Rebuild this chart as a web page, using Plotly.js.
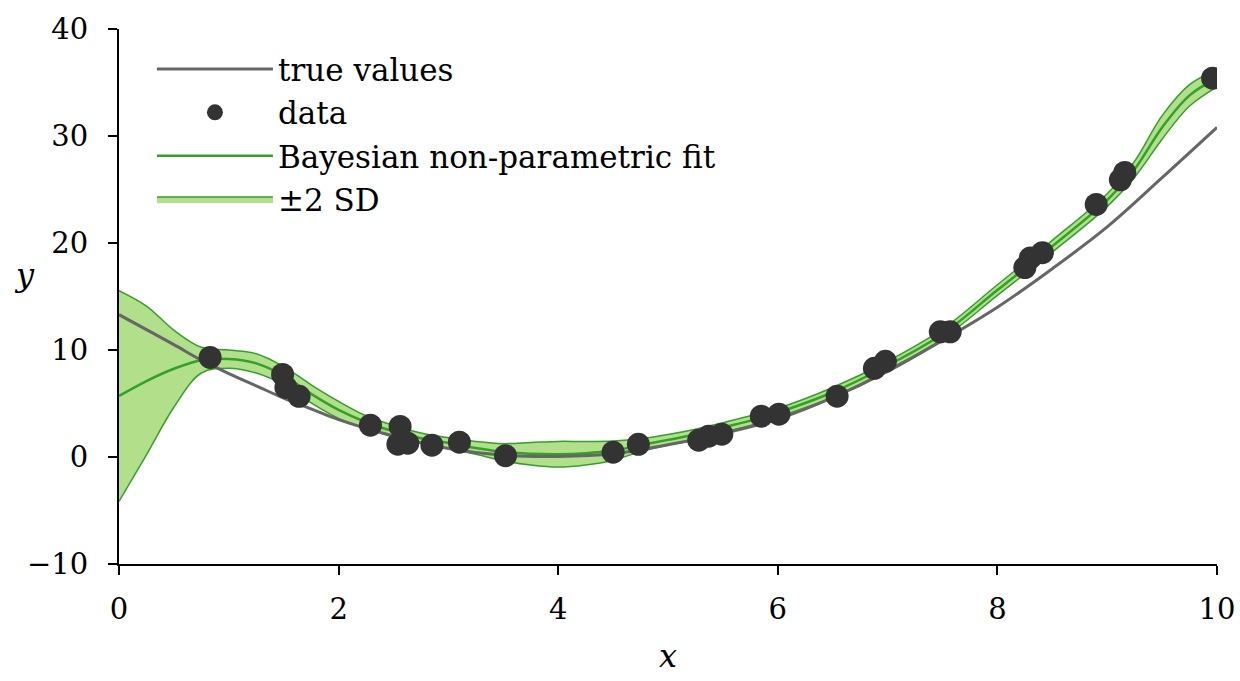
<!DOCTYPE html>
<html>
<head>
<meta charset="utf-8">
<script src="https://cdn.plot.ly/plotly-3.0.1.min.js"></script>
<style>html,body{margin:0;padding:0;background:#fff;}#chart{width:1240px;height:681px;}</style>
</head>
<body>
<div id="chart"></div>
<script>
// observed data points
const dataX = [0.83, 1.49, 1.52, 1.64, 2.29, 2.56, 2.54, 2.63, 2.85, 3.10, 3.52, 4.50, 4.73, 5.28, 5.37, 5.49, 5.85, 6.01, 6.54, 6.88, 6.98, 7.48, 7.57, 8.25, 8.30, 8.41, 8.90, 9.12, 9.16, 9.96];
const dataY = [9.31, 7.72, 6.50, 5.67, 2.97, 2.86, 1.20, 1.29, 1.10, 1.38, 0.12, 0.45, 1.19, 1.57, 1.94, 2.13, 3.81, 4.00, 5.68, 8.29, 8.94, 11.7, 11.7, 17.7, 18.6, 19.1, 23.6, 25.9, 26.6, 35.4];

// true values curve
const trueX = [0, 0.25, 0.5, 0.75, 1.0, 1.25, 1.5, 1.75, 2.0, 2.5, 3.0, 3.5, 4.0, 4.5, 5.0, 5.5, 6.0, 6.5, 7.0, 7.5, 8.0, 8.5, 9.0, 9.5, 10];
const trueY = [13.3, 11.9, 10.5, 9.05, 7.8, 6.65, 5.5, 4.5, 3.5, 1.97, 0.8, 0.17, 0.05, 0.3, 1.15, 2.2, 3.55, 5.55, 8.0, 10.9, 14.0, 17.6, 21.5, 26.1, 30.8];

// Bayesian non-parametric fit and ±2 SD band
const fitX = [0, 0.25, 0.5, 0.75, 1.0, 1.25, 1.5, 1.75, 2.0, 2.25, 2.5, 2.75, 3.0, 3.25, 3.5, 3.75, 4.0, 4.25, 4.5, 4.75, 5.0, 5.25, 5.5, 5.75, 6.0, 6.5, 7.0, 7.5, 8.0, 8.5, 9.0, 9.25, 9.5, 9.75, 10];
const fitY = [5.7, 7.1, 8.25, 9.05, 9.15, 8.75, 7.6, 5.9, 4.4, 3.25, 2.4, 1.75, 1.3, 0.85, 0.45, 0.3, 0.26, 0.35, 0.6, 1.1, 1.6, 2.1, 2.75, 3.4, 4.15, 6.05, 8.55, 11.5, 15.6, 19.7, 24.0, 26.9, 30.8, 33.8, 35.4];
const upperY = [15.55, 14.1, 11.85, 10.25, 10.0, 9.65, 8.45, 6.75, 5.2, 3.85, 2.95, 2.25, 1.8, 1.45, 1.25, 1.35, 1.46, 1.45, 1.5, 1.7, 2.1, 2.6, 3.2, 3.85, 4.55, 6.5, 8.95, 11.95, 16.1, 20.25, 24.6, 27.65, 31.9, 34.8, 36.2];
const lowerY = [-4.15, 0.2, 4.65, 7.85, 8.3, 7.85, 6.75, 5.05, 3.6, 2.65, 1.85, 1.25, 0.8, 0.25, -0.35, -0.75, -0.94, -0.75, -0.3, 0.5, 1.1, 1.6, 2.3, 2.95, 3.75, 5.6, 8.15, 11.05, 15.1, 19.15, 23.4, 26.15, 29.7, 32.8, 34.6];

const xTicks = [0, 2, 4, 6, 8, 10];
const yTicks = [-10, 0, 10, 20, 30, 40];

const GREEN = '#33a02c';
const FILL = '#b2df8a';
const SERIF = 'DejaVu Serif';

const traces = [
  {x: fitX, y: lowerY, mode: 'lines', line: {color: GREEN, width: 1.5, shape: 'spline'}, showlegend: false, hoverinfo: 'skip'},
  {x: fitX, y: upperY, mode: 'lines', fill: 'tonexty', fillcolor: FILL, line: {color: GREEN, width: 1.5, shape: 'spline'}, name: '±2 SD', legendrank: 4},
  {x: fitX, y: fitY, mode: 'lines', line: {color: GREEN, width: 2.5, shape: 'spline'}, name: 'Bayesian non-parametric fit', legendrank: 3},
  {x: trueX, y: trueY, mode: 'lines', line: {color: '#666666', width: 3, shape: 'spline'}, name: 'true values', legendrank: 1},
  {x: dataX, y: dataY, mode: 'markers', marker: {color: '#333333', size: 23}, name: 'data', legendrank: 2}
];

const layout = {
  width: 1240, height: 681,
  margin: {l: 119, r: 23, t: 29, b: 117},
  paper_bgcolor: '#ffffff', plot_bgcolor: '#ffffff',
  font: {family: SERIF, size: 30, color: '#000'},
  showlegend: true,
  legend: {x: 0.030, y: 0.975, xanchor: 'left', yanchor: 'top', traceorder: 'normal', bgcolor: 'rgba(0,0,0,0)', font: {family: SERIF, size: 31, color: '#000'}, itemwidth: 116, tracegroupgap: 0},
  xaxis: {
    range: [0, 10], tickvals: xTicks, ticktext: xTicks.map(String),
    showgrid: false, zeroline: false, showline: true, linecolor: '#000', linewidth: 2,
    ticks: 'outside', ticklen: 9, tickwidth: 2, tickcolor: '#000',
    tickfont: {family: SERIF, size: 29}, ticklabelstandoff: 9,
    title: {text: '<i>x</i>', font: {family: SERIF, size: 32}, standoff: 20}
  },
  yaxis: {
    range: [-10, 40], tickvals: yTicks,
    showgrid: false, zeroline: false, showline: true, linecolor: '#000', linewidth: 2,
    ticks: 'outside', ticklen: 9, tickwidth: 2, tickcolor: '#000',
    tickfont: {family: SERIF, size: 29}, ticklabelstandoff: 14
  },
  annotations: [
    {text: '<i>y</i>', xref: 'paper', yref: 'paper', x: (24 - 119) / 1098, y: (564 - 275) / 535, xanchor: 'center', yanchor: 'middle', showarrow: false, font: {family: SERIF, size: 32, color: '#000'}}
  ]
};

Plotly.newPlot('chart', traces, layout, {displayModeBar: false, staticPlot: true});
</script>
</body>
</html>
